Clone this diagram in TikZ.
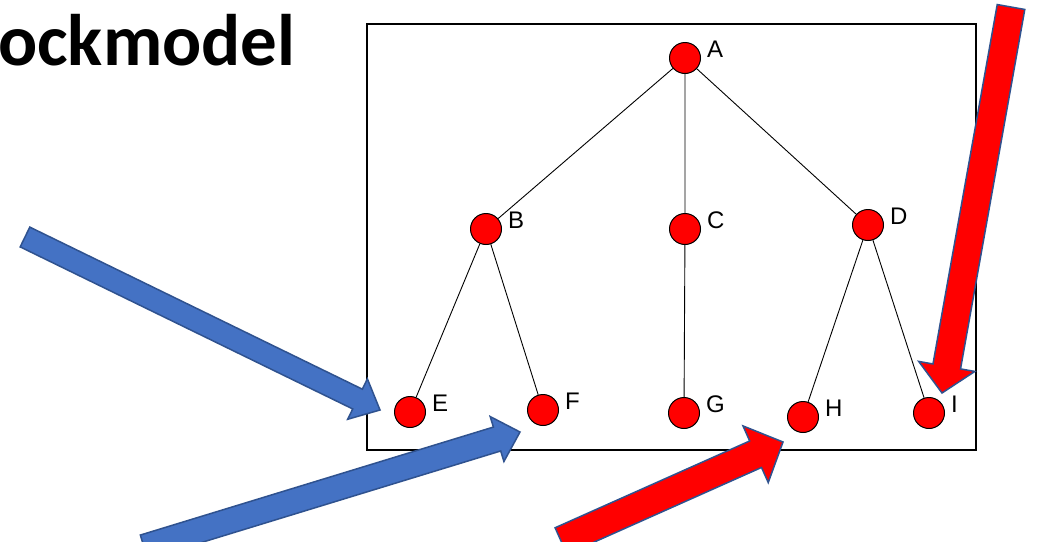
\documentclass[tikz,border=0pt]{standalone}
\usepackage{fontspec}
\setmainfont{Liberation Sans}
\newfontfamily\titlefont{Carlito}
\usepackage{tikz}
\usetikzlibrary{calc}
\definecolor{Blu}{HTML}{4472C4}
\definecolor{Rim}{HTML}{2F528F}
% block arrow: tail, tip, half shaft, half head, head length, fill
\newcommand{\blockarrow}[6]{%
  \coordinate (nk) at ($(#2)!#5!(#1)$);
  \draw[barrow,fill=#6] ($(#1)!#3!90:(#2)$) -- ($(nk)!#3!90:(#2)$) -- ($(nk)!#4!90:(#2)$) -- (#2)
    -- ($(nk)!#4!-90:(#2)$) -- ($(nk)!#3!-90:(#2)$) -- ($(#1)!#3!-90:(#2)$) -- cycle;}

\begin{document}
\begin{tikzpicture}[x=1pt,y=-1pt,
  vert/.style={circle,fill=red,draw=black,line width=1pt,minimum size=31pt,inner sep=0pt,label={[lbl]0:#1}},
  lbl/.style={font=\fontsize{24}{24}\selectfont,inner sep=0pt,label distance=6pt,yshift=9pt},
  link/.style={draw=black,line width=0.9pt},
  barrow/.style={draw=Rim,line width=1.5pt,line join=miter}]
\useasboundingbox (0,0) rectangle (1046,541);
\clip (0,0) rectangle (1046,541);
\fill[white] (0,0) rectangle (1046,541);
\node[anchor=base west,inner sep=0pt,font=\titlefont\bfseries\fontsize{73}{73}\selectfont] (title) at (-2,65) {ockmodel};
\draw[line width=1.5pt] (367,24) rectangle (976,450);
% tree
\node[vert=A] (A) at (685,58) {};
\node[vert=B] (B) at (486,229) {};
\node[vert=C] (C) at (685,229) {};
\node[vert=D] (D) at (868,225) {};
\node[vert=E] (E) at (410,412) {};
\node[vert=F] (F) at (543,410) {};
\node[vert=G] (G) at (684,413) {};
\node[vert=H] (H) at (803,417) {};
\node[vert=I] (I) at (929,413) {};
\draw[link] (A)--(B) (A)--(C) (A)--(D) (B)--(E) (B)--(F) (C)--(G) (D)--(H) (D)--(I);
% pointers
\coordinate (t1) at (25,237);   \coordinate (h1) at (380,410);
\coordinate (t2) at (144,547);  \coordinate (h2) at (520,432);
\coordinate (t3) at (561,541);  \coordinate (h3) at (783,442);
\coordinate (t4) at (1011,7);   \coordinate (h4) at (942,393);
\blockarrow{t1}{h1}{11pt}{22.5pt}{25pt}{Blu}
\blockarrow{t2}{h2}{12.5pt}{23.5pt}{24pt}{Blu}
\blockarrow{t3}{h3}{14.5pt}{31pt}{30pt}{red}
\blockarrow{t4}{h4}{14pt}{28.5pt}{27pt}{red}
\end{tikzpicture}
\end{document}
